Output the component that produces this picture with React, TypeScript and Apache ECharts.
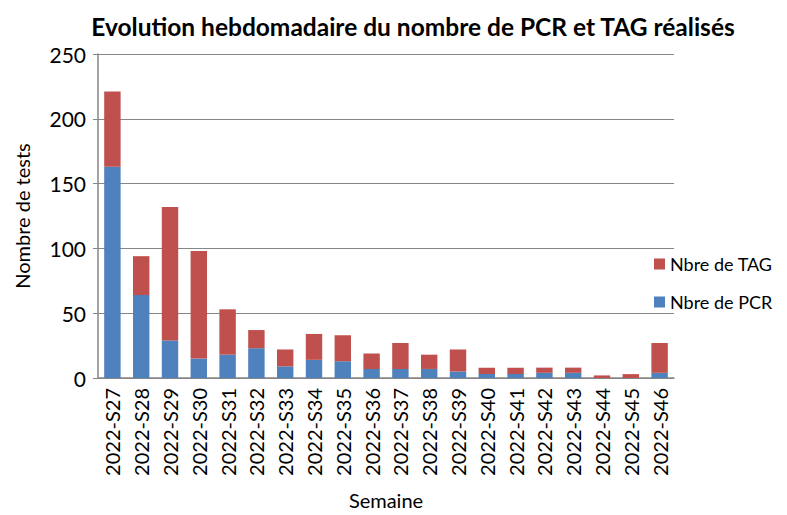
import React, { useEffect, useRef } from "react";
import * as echarts from "echarts";

const categories = [
  "2022-S27", "2022-S28", "2022-S29", "2022-S30", "2022-S31", "2022-S32", "2022-S33",
  "2022-S34", "2022-S35", "2022-S36", "2022-S37", "2022-S38", "2022-S39", "2022-S40",
  "2022-S41", "2022-S42", "2022-S43", "2022-S44", "2022-S45", "2022-S46",
];
const pcrValues = [163, 64, 29, 15, 18, 23, 9, 14, 13, 7, 7, 7, 5, 3, 3, 4, 4, 0, 0, 4];
const tagValues = [58, 30, 103, 83, 35, 14, 13, 20, 20, 12, 20, 11, 17, 5, 5, 4, 4, 2, 3, 23];
const yTicks = { min: 0, max: 250, interval: 50 };

const FONT = "Lato, 'Open Sans', sans-serif";

export default function App() {
  const ref = useRef<HTMLDivElement>(null);
  useEffect(() => {
    if (!ref.current) return;
    const chart = echarts.init(ref.current, null, { renderer: "svg" });
    chart.setOption({
      animation: false,
      textStyle: { fontFamily: FONT },
      title: {
        text: "Evolution hebdomadaire du nombre de PCR et TAG réalisés",
        left: 408,
        textAlign: "center",
        top: 9,
        textStyle: { fontFamily: FONT, fontWeight: "bold", fontSize: 24.5, color: "#000" },
      },
      legend: {
        orient: "vertical",
        left: 649,
        top: 250,
        itemWidth: 11,
        itemHeight: 11,
        itemGap: 20,
        icon: "rect",
        data: ["Nbre de TAG", "Nbre de PCR"],
        textStyle: { fontFamily: FONT, fontSize: 18, color: "#000" },
      },
      grid: { left: 98, right: 113, top: 54, bottom: 131, containLabel: false },
      xAxis: {
        type: "category",
        data: categories,
        name: "Semaine",
        nameLocation: "middle",
        nameGap: 112,
        nameTextStyle: { fontFamily: FONT, fontSize: 20, color: "#000" },
        axisLine: { lineStyle: { color: "#868686", width: 1.5 } },
        axisTick: { show: false },
        axisLabel: {
          rotate: 90,
          interval: 0,
          fontFamily: FONT,
          fontSize: 20,
          color: "#000",
          margin: 10,
        },
      },
      yAxis: {
        type: "value",
        min: yTicks.min,
        max: yTicks.max,
        interval: yTicks.interval,
        name: "Nombre de tests",
        nameLocation: "middle",
        nameGap: 66,
        nameTextStyle: { fontFamily: FONT, fontSize: 20, color: "#000" },
        axisLine: { show: true, lineStyle: { color: "#868686", width: 1.5 } },
        axisTick: { show: true, length: 5, lineStyle: { color: "#868686" } },
        axisLabel: { fontFamily: FONT, fontSize: 21, color: "#000", margin: 12 },
        splitLine: { lineStyle: { color: "#868686", width: 1.2 } },
      },
      series: [
        {
          name: "Nbre de PCR",
          type: "bar",
          stack: "total",
          data: pcrValues,
          barWidth: "57%",
          itemStyle: { color: "#4f81bd" },
        },
        {
          name: "Nbre de TAG",
          type: "bar",
          stack: "total",
          data: tagValues,
          barWidth: "57%",
          itemStyle: { color: "#c0504d" },
        },
      ],
    });
    return () => chart.dispose();
  }, []);
  return <div ref={ref} style={{ width: 787, height: 515, position: "absolute", left: 0, top: 0 }} />;
}
